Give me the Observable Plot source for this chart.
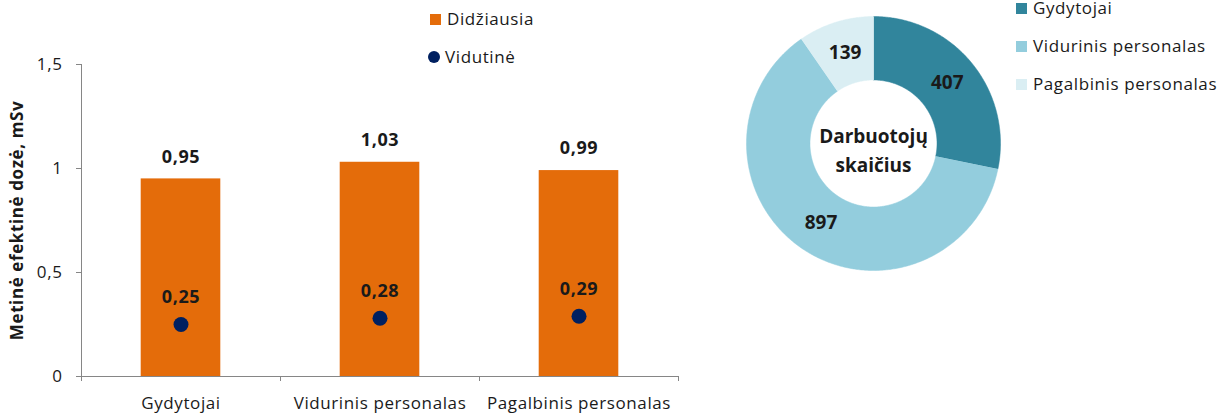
<!DOCTYPE html>
<html><head><meta charset="utf-8">
<script src="https://cdn.jsdelivr.net/npm/d3@7"></script>
<script src="https://cdn.jsdelivr.net/npm/@observablehq/plot@0.6"></script>
<style>
body{margin:0;background:#fff;font-family:"Open Sans",sans-serif;color:#1a1a1a}
#wrap{position:relative;width:1232px;height:416px;overflow:hidden}
.chart{position:absolute}
.leg{position:absolute;display:flex;align-items:center;font-size:17px;letter-spacing:0.6px;white-space:nowrap;height:20px;line-height:20px}
.sw{width:11px;height:11px;margin-right:6px;flex:none}
.dotsw{width:12px;height:12px;border-radius:50%;margin-right:5px;flex:none}
</style></head>
<body><div id="wrap"></div>
<script>
const categories = ["Gydytojai", "Vidurinis personalas", "Pagalbinis personalas"];
const maxDose = [0.95, 1.03, 0.99];
const avgDose = [0.25, 0.28, 0.29];
const yTicks = [0, 0.5, 1, 1.5];
const seriesNames = ["Didžiausia", "Vidutinė"];
const yTitle = "Metinė efektinė dozė, mSv";
const staffCounts = [407, 897, 139];
const staffColors = ["#31859c", "#93cddd", "#daeef3"];
const centerLabel = "Darbuotojų\nskaičius";
const barColor = "#e46c0a";
const dotColor = "#002060";
const axisColor = "#868686";

const comma = v => String(v).replace(".", ",");
const wrap = document.getElementById("wrap");
const rows = categories.map((c, i) => ({c, i, max: maxDose[i], avg: avgDose[i]}));

const bar = Plot.plot({
  width: 700, height: 416,
  marginTop: 64, marginBottom: 40, marginLeft: 81, marginRight: 22,
  style: {fontFamily: "Open Sans", fontSize: "17px", color: "#1a1a1a", background: "transparent", overflow: "visible", letterSpacing: "0.6px"},
  x: {type: "linear", domain: [0, categories.length]},
  y: {domain: [0, 1.5]},
  marks: [
    Plot.rectY(rows, {x1: d => d.i + 0.3, x2: d => d.i + 0.7, y: "max", fill: barColor}),
    Plot.ruleY([0], {stroke: axisColor}),
    Plot.ruleX([0], {stroke: axisColor}),
    Plot.axisY({ticks: yTicks, tickFormat: comma, tickSize: 5, tickPadding: 14, stroke: axisColor, label: null}),
    Plot.axisX({ticks: d3.range(categories.length + 1), tickFormat: () => "", tickSize: 5, stroke: axisColor, label: null}),
    Plot.axisX({ticks: rows.map(d => d.i + 0.5), tickFormat: v => categories[Math.floor(v)], tickSize: 0, tickPadding: 20, label: null}),
    Plot.dot(rows, {x: d => d.i + 0.5, y: "avg", r: 7.5, fill: dotColor}),
    Plot.text(rows, {x: d => d.i + 0.5, y: "max", text: d => comma(d.max), dy: -22, fontWeight: "bold", fontSize: 18, letterSpacing: 0}),
    Plot.text(rows, {x: d => d.i + 0.5, y: "avg", text: d => comma(d.avg), dy: -27, fontWeight: "bold", fontSize: 18}),
    Plot.text([yTitle], {frameAnchor: "left", textAnchor: "middle", lineAnchor: "middle", text: d => d, rotate: -90, dx: -64, fontWeight: "bold", fontSize: 17})
  ]
});
bar.classList.add("chart");
bar.style.left = "0px"; bar.style.top = "0px";
wrap.appendChild(bar);

// donut
const pie = d3.pie().sort(null)(staffCounts);
const R = 1, r0 = 0.5;
const slices = pie.map(p => {
  const n = Math.max(8, Math.ceil((p.endAngle - p.startAngle) / 0.01));
  const pts = [];
  for (let k = 0; k <= n; k++) { const a = p.startAngle + (p.endAngle - p.startAngle) * k / n; pts.push({x: Math.sin(a) * R, y: Math.cos(a) * R}); }
  for (let k = n; k >= 0; k--) { const a = p.startAngle + (p.endAngle - p.startAngle) * k / n; pts.push({x: Math.sin(a) * r0, y: Math.cos(a) * r0}); }
  return pts;
});
const mid = p => (p.startAngle + p.endAngle) / 2;
const ext = 135 / 127;
const donut = Plot.plot({
  width: 270, height: 270, margin: 0,
  style: {fontFamily: "Open Sans", fontSize: "17px", color: "#1a1a1a", background: "transparent", overflow: "visible"},
  x: {domain: [-ext, ext], axis: null},
  y: {domain: [-ext, ext], axis: null},
  marks: [
    ...slices.map((pts, i) => Plot.line(pts, {x: "x", y: "y", fill: staffColors[i], stroke: staffColors[i], strokeWidth: 0.5})),
    Plot.text(pie, {x: p => Math.sin(mid(p)) * 0.75, y: p => Math.cos(mid(p)) * 0.75, text: p => String(p.data), fontWeight: "bold", fontSize: 19}),
    Plot.text([centerLabel], {x: () => 0, y: () => 0, text: d => d, lineHeight: 1.5, dy: 5, fontWeight: "bold", fontSize: 19})
  ]
});
donut.classList.add("chart");
donut.style.left = "738px"; donut.style.top = "7.5px";
wrap.appendChild(donut);

// legends
function addLeg(left, cy, swClass, color, label) {
  const d = document.createElement("div");
  d.className = "leg";
  d.style.left = left + "px"; d.style.top = (cy - 10) + "px";
  const s = document.createElement("div"); s.className = swClass; s.style.background = color;
  const t = document.createElement("span"); t.textContent = label;
  d.appendChild(s); d.appendChild(t); wrap.appendChild(d);
}
addLeg(430, 19, "sw", barColor, seriesNames[0]);
addLeg(428, 57, "dotsw", dotColor, seriesNames[1]);
categories.forEach((c, i) => addLeg(1016, 8 + 38 * i, "sw", staffColors[i], c));
</script>
</body></html>
